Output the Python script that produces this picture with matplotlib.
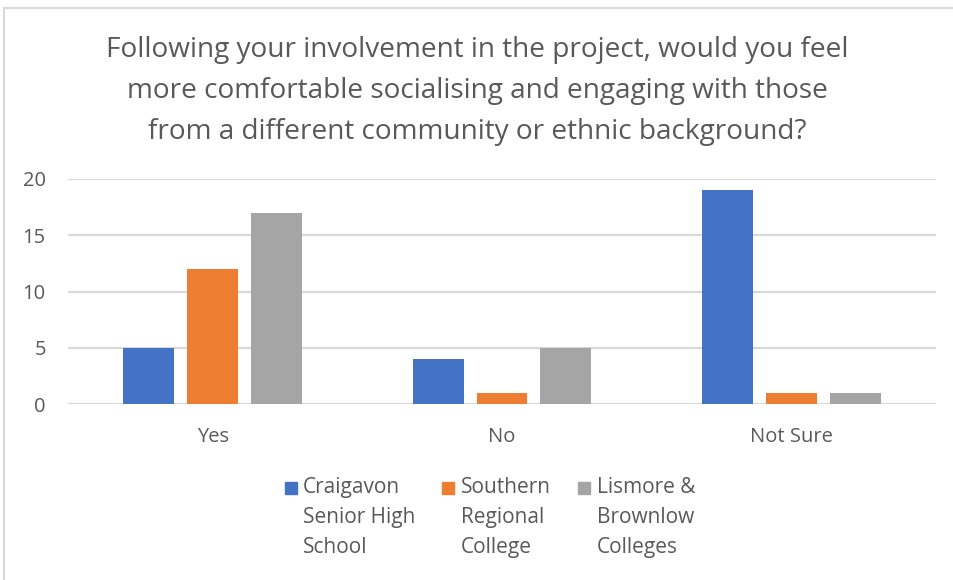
import matplotlib.pyplot as plt
from matplotlib.patches import Rectangle
from matplotlib.lines import Line2D

plt.rcParams['font.family'] = ['Open Sans', 'DejaVu Sans']

categories = ['Yes', 'No', 'Not Sure']
series_names = ['Craigavon\nSenior High\nSchool', 'Southern\nRegional\nCollege', 'Lismore &\nBrownlow\nColleges']
craigavon = [5, 4, 19]
southern = [12, 1, 1]
lismore = [17, 5, 1]
colors = ['#4472C4', '#ED7D31', '#A5A5A5']
text_color = '#595959'

W, H = 954, 580
fig = plt.figure(figsize=(W / 100, H / 100), dpi=100)
ax = fig.add_axes([68 / W, 1 - 404 / H, (936 - 68) / W, (404 - 179) / H])

bar_width = 0.176
offset = 0.221
index = range(len(categories))
for k, values in enumerate([craigavon, southern, lismore]):
    ax.bar([i + (k - 1) * offset for i in index], values, bar_width,
           color=colors[k], zorder=3)

ax.set_xlim(-0.5, 2.5)
ax.set_ylim(0, 20)
ax.set_yticks([0, 5, 10, 15, 20])
ax.set_xticks(list(index))
ax.set_xticklabels(categories)
ax.tick_params(axis='both', length=0, labelsize=14.5, labelcolor=text_color)
ax.tick_params(axis='y', pad=16)
ax.tick_params(axis='x', pad=16.5)
ax.grid(axis='y', color='#D9D9D9', linewidth=1.6, zorder=0)
for s in ax.spines.values():
    s.set_visible(False)

# title
fig.text(0.5, 1 - 91 / H,
         'Following your involvement in the project, would you feel\n'
         'more comfortable socialising and engaging with those\n'
         'from a different community or ethnic background?',
         ha='center', va='center', fontsize=20.2, color=text_color,
         linespacing=1.62)

# legend drawn by hand (square next to the first line)
sq_x = [285, 442, 578]
tx_x = [303, 461, 597]
for k in range(3):
    fig.patches.append(Rectangle((sq_x[k] / W, 1 - 494 / H), 12 / W, 12 / H,
                                 transform=fig.transFigure, color=colors[k]))
    fig.text(tx_x[k] / W, 1 - 477 / H, series_names[k], ha='left', va='top',
             fontsize=15, color=text_color, linespacing=1.57)

# chart border
fig.add_artist(Line2D([4 / W, 4 / W], [0, 1 - 8 / H], transform=fig.transFigure,
                      color='#D9D9D9', linewidth=1.5))
fig.add_artist(Line2D([4 / W, 1], [1 - 8 / H, 1 - 8 / H], transform=fig.transFigure,
                      color='#D9D9D9', linewidth=1.5))

fig.savefig('out.png', dpi=100)
